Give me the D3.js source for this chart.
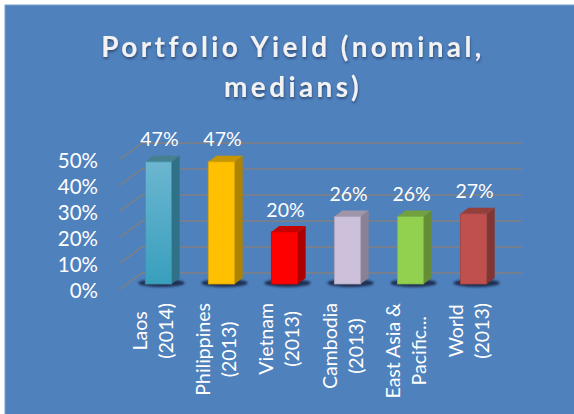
<!DOCTYPE html>
<html>
<head>
<meta charset="utf-8">
<style>
    html, body { margin: 0; padding: 0; background: #fff; }
    svg { display: block; }
    text { font-family: Lato, "Open Sans", sans-serif; fill: #fff; }
</style>
</head>
<body>
<svg id="chart" width="574" height="414"></svg>
<script src="https://cdn.jsdelivr.net/npm/d3@7"></script>
<script>
    const titleLines = ["Portfolio Yield (nominal,", "medians)"];
    const categories = ["Laos (2014)", "Philippines (2013)", "Vietnam (2013)", "Cambodia (2013)", "East Asia & Pacific...", "World (2013)"];
    const categoryLines = [["Laos", "(2014)"], ["Philippines", "(2013)"], ["Vietnam", "(2013)"], ["Cambodia", "(2013)"], ["East Asia &", "Pacific..."], ["World", "(2013)"]];
    const values = [47, 47, 20, 26, 26, 27];
    const yTicks = [0, 10, 20, 30, 40, 50];
    const frontColors = ["#4aaac8", "#ffc000", "#ff0000", "#ccc0da", "#92d050", "#c0504d"];
    const edgeColors = ["#3f90a8", "#d9a300", "#d90000", "#ada3b9", "#7cb144", "#a34441"];
    const sideColors = ["#2f7288", "#ad8300", "#ad0000", "#8a8294", "#648d36", "#823634"];
    const topColors = ["#45808f", "#c79500", "#c70000", "#9f96a9", "#71a03e", "#953e3c"];

    const svg = d3.select("#chart");
    const depthX = 8, depthY = 6; // bar depth
    const wallX = 22, wallY = 16; // floor depth

    const x = d3.scaleBand().domain(categories).range([127, 505]).paddingInner(0.582).paddingOuter(0.29);
    const y = d3.scaleLinear().domain([0, 50]).range([289, 159]);

    const defs = svg.append("defs");
    const shadow = defs.append("filter").attr("id", "titleShadow").attr("x", "-10%").attr("y", "-20%").attr("width", "120%").attr("height", "150%");
    shadow.append("feDropShadow").attr("dx", 0.5).attr("dy", 2).attr("stdDeviation", 1.2).attr("flood-color", "#1d2f4a").attr("flood-opacity", 0.6);
    const blur = defs.append("filter").attr("id", "floorBlur").attr("x", "-30%").attr("y", "-100%").attr("width", "160%").attr("height", "300%");
    blur.append("feGaussianBlur").attr("stdDeviation", 1.2);
    const laosFill = defs.append("linearGradient").attr("id", "laosFill").attr("x1", 0).attr("x2", 0).attr("y1", 0).attr("y2", 1);
    laosFill.append("stop").attr("offset", "0%").attr("stop-color", "#6cb6d0");
    laosFill.append("stop").attr("offset", "100%").attr("stop-color", "#389fbd");

    // background panel runs off the right and bottom edges
    svg.append("rect").attr("x", 5).attr("y", 5).attr("width", 575).attr("height", 415)
        .attr("fill", "#4f81bd").attr("stroke", "#7ba0d0").attr("stroke-width", 1);

    // title
    svg.append("g").attr("filter", "url(#titleShadow)")
        .selectAll("text").data(titleLines).join("text")
        .attr("x", 293)
        .attr("y", (d, i) => 57 + i * 40)
        .attr("text-anchor", "middle")
        .style("font-size", "28px")
        .style("font-weight", 700)
        .style("letter-spacing", "3.4px")
        .style("fill", "#f2f2f2")
        .text(d => d);

    // gridlines: back wall and left wall
    const grid = svg.append("g").attr("stroke", "#808080").attr("stroke-width", 1.5).attr("fill", "none");
    grid.selectAll(".back").data(yTicks).join("line").attr("class", "back")
        .attr("x1", 120 + wallX).attr("x2", 522)
        .attr("y1", d => y(d) - wallY).attr("y2", d => y(d) - wallY);
    grid.selectAll(".wall").data(yTicks).join("line").attr("class", "wall")
        .attr("x1", 120).attr("x2", 120 + wallX)
        .attr("y1", d => y(d)).attr("y2", d => y(d) - wallY);

    // y tick labels
    svg.append("g").selectAll("text").data(yTicks).join("text")
        .attr("x", 98)
        .attr("y", d => y(d) + 9)
        .attr("text-anchor", "end")
        .style("font-size", "20.5px")
        .text(d => d + "%");

    const baseY = y(0) - 5; // bars stand a little inside the floor
    const barY = d => baseY - (y(0) - y(d));
    const bars = svg.append("g").selectAll("g").data(categories.map((c, i) => ({ c, v: values[i], i }))).join("g");

    bars.append("ellipse")
        .attr("cx", d => x(d.c) + x.bandwidth() / 2 + 3)
        .attr("cy", baseY - 1)
        .attr("rx", x.bandwidth() / 2 + 10)
        .attr("ry", 4)
        .attr("fill", "#14243f")
        .attr("opacity", 0.85)
        .attr("filter", "url(#floorBlur)");

    bars.append("path")
        .attr("fill", d => sideColors[d.i])
        .attr("d", d => {
            const r = x(d.c) + x.bandwidth();
            return `M${r},${barY(d.v)}l${depthX},${-depthY}V${baseY - depthY}l${-depthX},${depthY}Z`;
        });
    bars.append("path")
        .attr("fill", d => topColors[d.i])
        .attr("d", d => {
            const l = x(d.c);
            return `M${l},${barY(d.v)}l${depthX},${-depthY}h${x.bandwidth()}l${-depthX},${depthY}Z`;
        });
    bars.append("rect")
        .attr("x", d => x(d.c))
        .attr("y", d => barY(d.v))
        .attr("width", x.bandwidth())
        .attr("height", d => baseY - barY(d.v))
        .attr("fill", d => d.i === 0 ? "url(#laosFill)" : frontColors[d.i])
        .attr("stroke", d => edgeColors[d.i])
        .attr("stroke-width", 0.8);

    // value labels
    svg.append("g").selectAll("text").data(categories.map((c, i) => ({ c, v: values[i] }))).join("text")
        .attr("x", d => x(d.c) + x.bandwidth() / 2 + 1)
        .attr("y", d => barY(d.v) - 15.5)
        .attr("text-anchor", "middle")
        .style("font-size", "19.5px")
        .text(d => d.v + "%");

    // rotated category labels: lines centred on each other, block hangs from y = 303
    const catGroups = svg.append("g").selectAll("g").data(categories).join("g")
        .attr("transform", d => `translate(${x(d) + x.bandwidth() / 2},303) rotate(-90)`);
    catGroups.selectAll("text").data((d, i) => categoryLines[i].map((t, j) => ({ t, j }))).join("text")
        .attr("y", d => d.j === 0 ? -11 : 15)
        .attr("text-anchor", "middle")
        .style("font-size", "19.5px")
        .text(d => d.t);
    catGroups.each(function() {
        const labels = d3.select(this).selectAll("text");
        const longest = d3.max(labels.nodes(), n => n.getComputedTextLength());
        labels.attr("x", -longest / 2);
    });
</script>
</body>
</html>
